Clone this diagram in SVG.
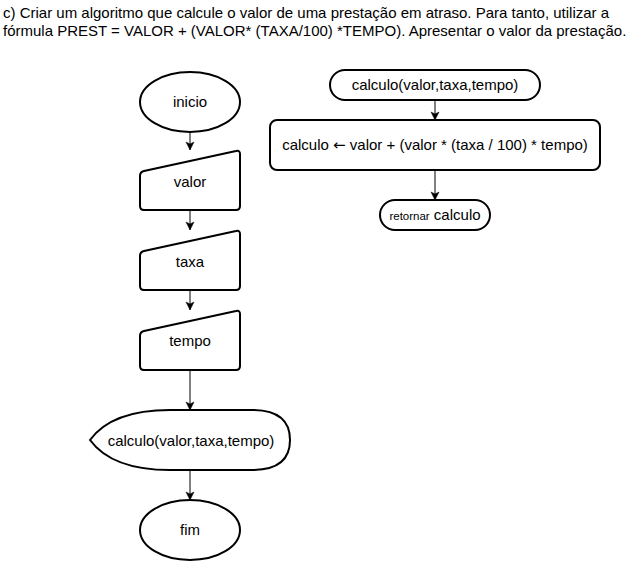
<svg xmlns="http://www.w3.org/2000/svg" width="641" height="562" viewBox="0 0 641 562">
<style>
.bg{fill:#fff}
.shape{fill:#fff;stroke:#000;stroke-width:2}
.conn{fill:none;stroke:#000;stroke-width:1}
text{font-family:"Liberation Sans",Arial,sans-serif;fill:#000}
.t{font-size:15px;text-anchor:middle}
.title{font-size:15px}
.arrowglyph{font-family:"DejaVu Sans",sans-serif}
</style>
<defs>
<marker id="arr" markerUnits="userSpaceOnUse" viewBox="-9 -5 10 10" refX="0" refY="0" markerWidth="10" markerHeight="10" orient="auto">
<path d="M0,0 L-8,-4 L-6,0 L-8,4 Z" fill="#000" stroke="#000" stroke-width="0.5"/>
</marker>
</defs>
<rect class="bg" x="0" y="0" width="641" height="562"/>
<g id="title">
<text class="title" x="3" y="18">c) Criar um algoritmo que calcule o valor de uma prestação em atraso. Para tanto, utilizar a</text>
<text class="title" x="3" y="36">fórmula PREST = VALOR + (VALOR* (TAXA/100) *TEMPO). Apresentar o valor da prestação.</text>
</g>
<g id="connectors">
<path class="conn" d="M190,132 V150" marker-end="url(#arr)"/>
<path class="conn" d="M190,210 V230" marker-end="url(#arr)"/>
<path class="conn" d="M190,290 V310" marker-end="url(#arr)"/>
<path class="conn" d="M190,370 V410" marker-end="url(#arr)"/>
<path class="conn" d="M190,470 V500" marker-end="url(#arr)"/>
<path class="conn" d="M435,100 V120" marker-end="url(#arr)"/>
<path class="conn" d="M435,170 V200" marker-end="url(#arr)"/>
</g>
<g id="inicio">
<ellipse class="shape" cx="190" cy="102" rx="50" ry="30"/>
<text class="t" x="190" y="107">inicio</text>
</g>
<g id="valor">
<path class="shape" d="M140,176 Q140,172 144,171 L236,151 Q240,150 240,154 V206 Q240,210 236,210 H144 Q140,210 140,206 Z"/>
<text class="t" x="190" y="187">valor</text>
</g>
<g id="taxa">
<path class="shape" d="M140,256 Q140,252 144,251 L236,231 Q240,230 240,234 V286 Q240,290 236,290 H144 Q140,290 140,286 Z"/>
<text class="t" x="190" y="267">taxa</text>
</g>
<g id="tempo">
<path class="shape" d="M140,336 Q140,332 144,331 L236,311 Q240,310 240,314 V366 Q240,370 236,370 H144 Q140,370 140,366 Z"/>
<text class="t" x="190" y="346">tempo</text>
</g>
<g id="chamada">
<path class="shape" d="M90,440 Q112,410 170,410 H252 Q290,410 290,440 Q290,470 252,470 H170 Q112,470 90,440 Z"/>
<text class="t" x="191" y="446">calculo(valor,taxa,tempo)</text>
</g>
<g id="fim">
<ellipse class="shape" cx="190" cy="530" rx="50" ry="30"/>
<text class="t" x="190" y="535">fim</text>
</g>
<g id="funcao">
<rect class="shape" x="330" y="70" width="210" height="30" rx="15" ry="15"/>
<text class="t" x="435" y="90">calculo(valor,taxa,tempo)</text>
</g>
<g id="atribuicao">
<rect class="shape" x="270" y="120" width="330" height="50" rx="7" ry="7"/>
<text class="t" x="435" y="150">calculo <tspan class="arrowglyph">←</tspan> valor + (valor * (taxa / 100) * tempo)</text>
</g>
<g id="retornar">
<rect class="shape" x="380" y="200" width="110" height="30" rx="15" ry="15"/>
<text class="t" x="435" y="220"><tspan font-size="11.5px">retornar</tspan> calculo</text>
</g>
</svg>
